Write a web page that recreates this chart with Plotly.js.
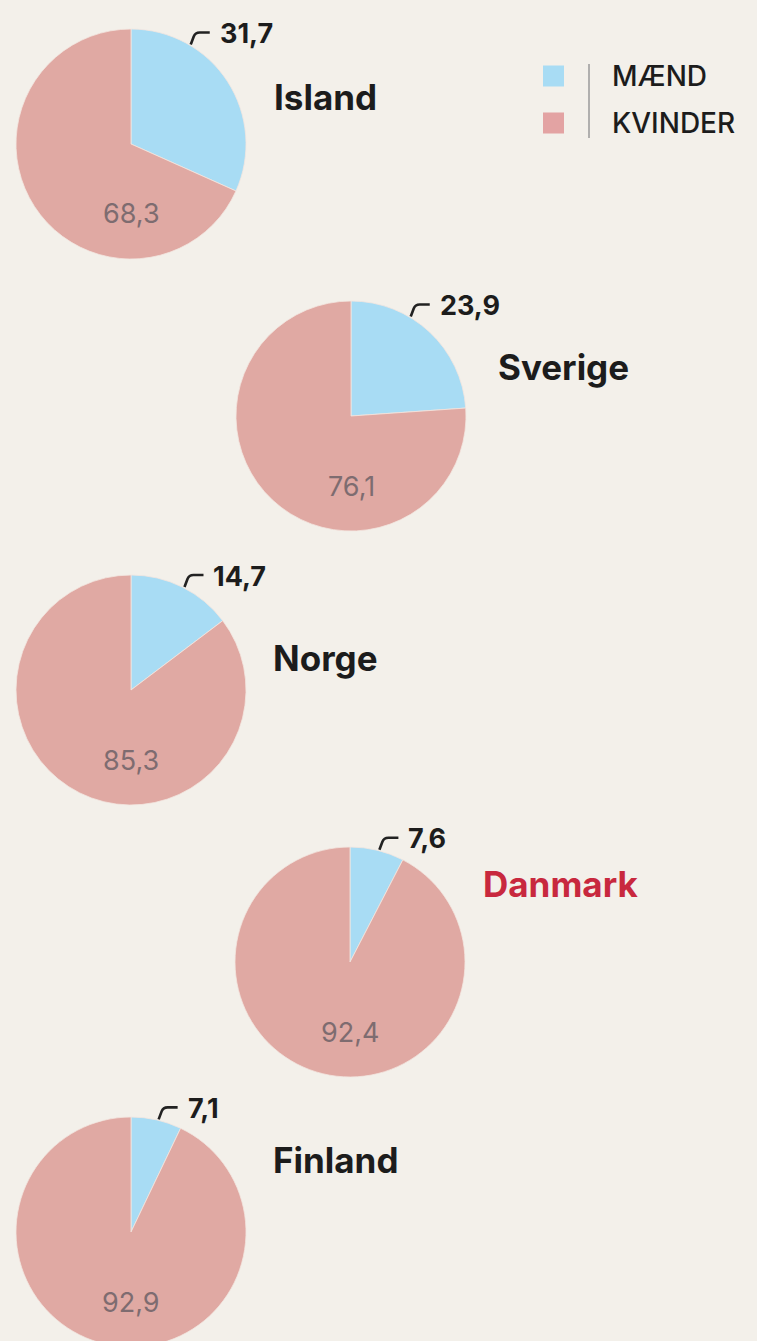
<!DOCTYPE html>
<html>
<head>
<meta charset="utf-8">
<script src="https://cdn.plot.ly/plotly-3.0.1.min.js"></script>
<style>
  html, body { margin: 0; padding: 0; background: #f3f0ea; overflow: hidden; }
  #chart { width: 757px; height: 1350px; }
</style>
</head>
<body>
<div id="chart"></div>
<script>
// ---- data ----
const countries = ["Island", "Sverige", "Norge", "Danmark", "Finland"];
const maend     = [31.7, 23.9, 14.7, 7.6, 7.1];
const kvinder   = [68.3, 76.1, 85.3, 92.4, 92.9];
const seriesNames = ["MÆND", "KVINDER"];

// ---- layout constants (pixels) ----
// The figure is slightly taller than the 1341px window so the last pie is cut at the bottom edge like the original.
const W = 757, H = 1350, R = 115;
const centers = [[131, 144], [351, 416], [131, 690], [350, 962], [131, 1232]];
const namePos = [[272, 97], [496, 367], [271, 658], [481, 884], [271, 1160]];
const nameColors = ["#1c1c1c", "#1c1c1c", "#1c1c1c", "#c8283e", "#1c1c1c"];
const BLUE = "#a8dcf4", PINK = "#e0a9a3", LEG_PINK = "#e3a3a3";
const FONT = "Inter, 'Liberation Sans', Arial, sans-serif";

const px = x => x / W;
const py = y => 1 - y / H;
const fmt = v => v.toFixed(1).replace(".", ",");

const traces = [];
const annotations = [];
const shapes = [];

countries.forEach((c, i) => {
  const [cx, cy] = centers[i];
  traces.push({
    type: "pie",
    name: c,
    labels: seriesNames,
    values: [maend[i], kvinder[i]],
    sort: false,
    direction: "clockwise",
    rotation: 0,
    textinfo: "none",
    hoverinfo: "label+value",
    showlegend: false,
    marker: { colors: [BLUE, PINK], line: { color: "#f3e6e0", width: 0.8 } },
    domain: { x: [px(cx - R), px(cx + R)], y: [py(cy + R), py(cy - R)] }
  });

  // country name
  annotations.push({
    xref: "paper", yref: "paper", x: px(namePos[i][0]), y: py(namePos[i][1]),
    xanchor: "left", yanchor: "middle", showarrow: false,
    text: "<b>" + c + "</b>",
    font: { family: FONT, size: 35, color: nameColors[i] }
  });

  // women value inside, lower part
  annotations.push({
    xref: "paper", yref: "paper", x: px(cx), y: py(cy + 70),
    xanchor: "center", yanchor: "middle", showarrow: false,
    text: fmt(kvinder[i]),
    font: { family: FONT, size: 27, color: "#7e6c70" }
  });

  // men value outside with small hook
  const theta = Math.min(maend[i] * 1.8 + 1, 31) * Math.PI / 180;
  const sx = cx + (R + 1) * Math.sin(theta);
  const sy = cy - (R + 1) * Math.cos(theta);
  shapes.push({
    type: "path", xref: "paper", yref: "paper",
    path: `M ${px(sx)} ${py(sy)} L ${px(sx + 3)} ${py(sy - 8)} Q ${px(sx + 4.5)} ${py(sy - 12)} ${px(sx + 9)} ${py(sy - 12)} L ${px(sx + 19)} ${py(sy - 12)}`,
    line: { color: "#222222", width: 2.6 }
  });
  annotations.push({
    xref: "paper", yref: "paper", x: px(sx + 27), y: py(sy - 11),
    xanchor: "left", yanchor: "middle", showarrow: false,
    text: "<b>" + fmt(maend[i]) + "</b>",
    font: { family: FONT, size: 27, color: "#1c1c1c" }
  });
});

// legend (drawn manually)
const legColors = [BLUE, LEG_PINK];
const legY = [76, 123];
seriesNames.forEach((s, k) => {
  shapes.push({
    type: "rect", xref: "paper", yref: "paper",
    x0: px(543), x1: px(564), y0: py(legY[k] - 10.5), y1: py(legY[k] + 10.5),
    fillcolor: legColors[k], line: { width: 0 }
  });
  annotations.push({
    xref: "paper", yref: "paper", x: px(610), y: py(legY[k]),
    xanchor: "left", yanchor: "middle", showarrow: false,
    text: s,
    font: { family: FONT, size: 28, weight: 500, color: "#1c1c1c" }
  });
});
shapes.push({
  type: "line", xref: "paper", yref: "paper",
  x0: px(589), x1: px(589), y0: py(64), y1: py(138),
  line: { color: "#9a9a9a", width: 1.5 }
});

const layout = {
  width: W, height: H,
  margin: { l: 0, r: 0, t: 0, b: 0 },
  paper_bgcolor: "#f3f0ea",
  plot_bgcolor: "#f3f0ea",
  showlegend: false,
  annotations: annotations,
  shapes: shapes,
  font: { family: FONT }
};

Plotly.newPlot("chart", traces, layout, { displayModeBar: false, staticPlot: true });
</script>
</body>
</html>
